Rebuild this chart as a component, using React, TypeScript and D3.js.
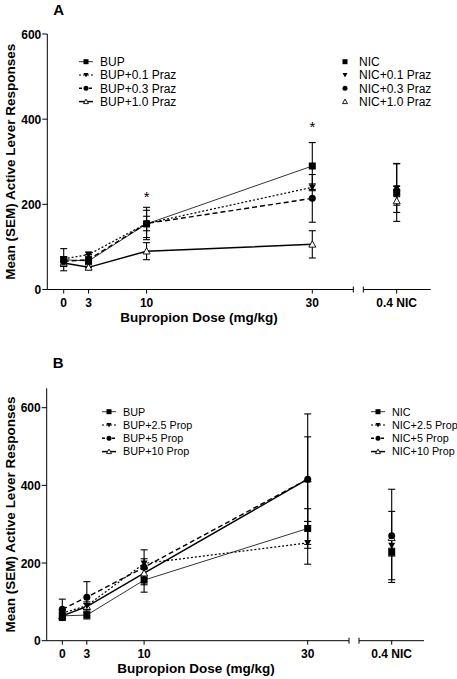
import React from "react";
import * as d3 from "d3";

const doses = [0, 3, 10, 30];
const yTicks = [0, 200, 400, 600];

// Panel A
const seriesA = ["BUP", "BUP+0.1 Praz", "BUP+0.3 Praz", "BUP+1.0 Praz"];
const nicNamesA = ["NIC", "NIC+0.1 Praz", "NIC+0.3 Praz", "NIC+1.0 Praz"];
const bupA = [70, 67, 154, 290];
const bupA_sem = [26, 15, 32, 55];
const bup01A = [72, 82, 155, 240];
const bup01A_sem = [5, 6, 17, 8];
const bup03A = [66, 70, 155, 214];
const bup03A_sem = [8, 8, 38, 56];
const bup10A = [62, 52, 90, 106];
const bup10A_sem = [8, 6, 20, 32];
const nicA = [228, 238, 232, 208];
const nicA_sem = [68, 57, 10, 10];
const starDosesA = [10, 30];
const starValuesA = [227, 390];

// Panel B
const seriesB = ["BUP", "BUP+2.5 Prop", "BUP+5 Prop", "BUP+10 Prop"];
const nicNamesB = ["NIC", "NIC+2.5 Prop", "NIC+5 Prop", "NIC+10 Prop"];
const bupB = [64, 66, 156, 289];
const bupB_sem = [12, 10, 31, 51];
const bup25B = [71, 90, 199, 252];
const bup25B_sem = [8, 10, 12, 55];
const bup5B = [81, 112, 189, 416];
const bup5B_sem = [26, 40, 45, 168];
const bup10B = [64, 88, 174, 416];
const bup10B_sem = [8, 8, 10, 109];
const nicB = [228, 245, 270, 265];
const nicB_sem = [10, 88, 120, 0];

const FONT = "'Liberation Sans', Arial, sans-serif";

const styles = [
  { shape: "square", dash: "none", width: 0.8 },
  { shape: "tridown", dash: "2,2", width: 1.2 },
  { shape: "circle", dash: "5,3", width: 1.4 },
  { shape: "triup", dash: "none", width: 1.5 },
];

function Marker({ shape, x, y, s }: { shape: string; x: number; y: number; s: number }) {
  const h = s / 2;
  if (shape === "square") return <rect x={x - h} y={y - h} width={s} height={s} fill="#000" />;
  if (shape === "circle") return <circle cx={x} cy={y} r={h} fill="#000" />;
  if (shape === "tridown")
    return <path d={`M${x - h},${y - h * 0.8}L${x + h},${y - h * 0.8}L${x},${y + h}Z`} fill="#000" />;
  return (
    <path
      d={`M${x - h},${y + h * 0.8}L${x + h},${y + h * 0.8}L${x},${y - h}Z`}
      fill="#fff"
      stroke="#000"
      strokeWidth={0.9}
    />
  );
}

type PanelCfg = {
  label: string;
  labelY: number;
  axisX: number;
  yTop: number;
  yBottom: number;
  axisTopVal: number;
  x0: number;
  x30: number;
  nicX: number;
  seg1End: number;
  seg2Start: number;
  seg2End: number;
  means: number[][];
  sems: number[][];
  nic: number[];
  nicSem: number[];
  names: string[];
  nicNames: string[];
  legL: number;
  legR: number;
  legY: number;
  legFont: number;
  nicLines: boolean;
  stars?: { d: number; v: number }[];
};

function Panel({ c }: { c: PanelCfg }) {
  const y = d3.scaleLinear().domain([0, 600]).range([c.yBottom, c.yTop]);
  const x = d3.scaleLinear().domain([0, 30]).range([c.x0, c.x30]);
  const line = d3
    .line<number>()
    .x((_, i) => x(doses[i]))
    .y((v) => y(v));
  const cap = 3.5;
  const errBar = (cx: number, m: number, s: number, key: string) => {
    if (!s) return null;
    const t = y(m + s);
    const b = y(m - s);
    return (
      <g key={key} stroke="#000" strokeWidth={1.1}>
        <line x1={cx} x2={cx} y1={t} y2={b} />
        <line x1={cx - cap} x2={cx + cap} y1={t} y2={t} />
        <line x1={cx - cap} x2={cx + cap} y1={b} y2={b} />
      </g>
    );
  };
  const yAxis0 = y(0);
  return (
    <g fontFamily={FONT}>
      <text x={c.axisX + 6} y={c.labelY} fontSize={15} fontWeight="bold">
        {c.label}
      </text>
      {/* y axis */}
      <line x1={c.axisX} x2={c.axisX} y1={y(c.axisTopVal)} y2={yAxis0} stroke="#000" strokeWidth={1} />
      {yTicks.map((t) => (
        <g key={t}>
          <line x1={c.axisX - 5} x2={c.axisX} y1={y(t)} y2={y(t)} stroke="#000" />
          <text x={c.axisX - 6} y={y(t) + 4.5} fontSize={12} fontWeight="bold" textAnchor="end">
            {t}
          </text>
        </g>
      ))}
      {/* x axis segments */}
      <line x1={c.axisX} x2={c.seg1End} y1={yAxis0} y2={yAxis0} stroke="#000" />
      <line x1={c.seg1End} x2={c.seg1End} y1={yAxis0 - 3} y2={yAxis0 + 3} stroke="#000" />
      <line x1={c.seg2Start} x2={c.seg2End} y1={yAxis0} y2={yAxis0} stroke="#000" />
      <line x1={c.seg2Start} x2={c.seg2Start} y1={yAxis0 - 3} y2={yAxis0 + 3} stroke="#000" />
      {doses.map((d) => (
        <g key={d}>
          <line x1={x(d)} x2={x(d)} y1={yAxis0} y2={yAxis0 + 4} stroke="#000" />
          <text x={x(d)} y={yAxis0 + 17} fontSize={12} fontWeight="bold" textAnchor="middle">
            {d}
          </text>
        </g>
      ))}
      <line x1={c.nicX} x2={c.nicX} y1={yAxis0} y2={yAxis0 + 4} stroke="#000" />
      <text x={c.nicX} y={yAxis0 + 17} fontSize={12} fontWeight="bold" textAnchor="middle">
        0.4 NIC
      </text>
      <text x={(c.x0 + c.x30) / 2 + 11} y={yAxis0 + 32} fontSize={13.5} fontWeight="bold" textAnchor="middle">
        Bupropion Dose (mg/kg)
      </text>
      {/* y axis title */}
      <text
        transform={`translate(15,${(y(0) + y(c.axisTopVal)) / 2}) rotate(-90)`}
        fontSize={13.5}
        fontWeight="bold"
        textAnchor="middle"
      >
        Mean (SEM) Active Lever Responses
      </text>
      {/* error bars */}
      {c.means.map((m, si) => m.map((v, i) => errBar(x(doses[i]), v, c.sems[si][i], `e${si}-${i}`)))}
      {c.nic.map((v, si) => errBar(c.nicX, v, c.nicSem[si], `n${si}`))}
      {/* lines */}
      {c.means.map((m, si) => (
        <path
          key={si}
          d={line(m) || ""}
          fill="none"
          stroke="#000"
          strokeWidth={styles[si].width}
          strokeDasharray={styles[si].dash}
        />
      ))}
      {/* markers */}
      {[3, 2, 1, 0].map((si) =>
        c.means[si].map((v, i) => (
          <Marker key={`m${si}-${i}`} shape={styles[si].shape} x={x(doses[i])} y={y(v)} s={7} />
        ))
      )}
      {[3, 2, 1, 0].map((si) => (
        <Marker key={`nm${si}`} shape={styles[si].shape} x={c.nicX} y={y(c.nic[si])} s={7} />
      ))}
      {c.stars &&
        c.stars.map((s, i) => (
          <text key={i} x={x(s.d)} y={y(s.v) + 9} fontSize={15} textAnchor="middle">
            *
          </text>
        ))}
      {/* legends */}
      {c.names.map((n, i) => {
        const ly = c.legY + i * 13.3;
        return (
          <g key={n}>
            <line
              x1={c.legL}
              x2={c.legL + 14}
              y1={ly}
              y2={ly}
              stroke="#000"
              strokeWidth={styles[i].width}
              strokeDasharray={styles[i].dash === "5,3" ? "3,2" : styles[i].dash}
            />
            <Marker shape={styles[i].shape} x={c.legL + 7} y={ly} s={5} />
            <text x={c.legL + 21} y={ly + c.legFont * 0.36} fontSize={c.legFont}>
              {n}
            </text>
          </g>
        );
      })}
      {c.nicNames.map((n, i) => {
        const ly = c.legY + i * 13.3;
        return (
          <g key={n}>
            {c.nicLines && (
              <line
                x1={c.legR}
                x2={c.legR + 14}
                y1={ly}
                y2={ly}
                stroke="#000"
                strokeWidth={styles[i].width}
                strokeDasharray={styles[i].dash === "5,3" ? "3,2" : styles[i].dash}
              />
            )}
            <Marker shape={styles[i].shape} x={c.legR + 7} y={ly} s={5} />
            <text x={c.legR + 21} y={ly + c.legFont * 0.36} fontSize={c.legFont}>
              {n}
            </text>
          </g>
        );
      })}
    </g>
  );
}

export default function App() {
  const A: PanelCfg = {
    label: "A",
    labelY: 15,
    axisX: 47.3,
    yTop: 34,
    yBottom: 289.5,
    axisTopVal: 600,
    x0: 63.7,
    x30: 312.3,
    nicX: 396.7,
    seg1End: 353.3,
    seg2Start: 363.3,
    seg2End: 430.7,
    means: [bupA, bup01A, bup03A, bup10A],
    sems: [bupA_sem, bup01A_sem, bup03A_sem, bup10A_sem],
    nic: nicA,
    nicSem: nicA_sem,
    names: seriesA,
    nicNames: nicNamesA,
    legL: 79,
    legR: 338,
    legY: 61.7,
    legFont: 12,
    nicLines: false,
    stars: starDosesA.map((d, i) => ({ d, v: starValuesA[i] })),
  };
  const B: PanelCfg = {
    label: "B",
    labelY: 368,
    axisX: 46.7,
    yTop: 407.7,
    yBottom: 640.7,
    axisTopVal: 650,
    x0: 62.3,
    x30: 307.7,
    nicX: 391.7,
    seg1End: 349,
    seg2Start: 359,
    seg2End: 424,
    means: [bupB, bup25B, bup5B, bup10B],
    sems: [bupB_sem, bup25B_sem, bup5B_sem, bup10B_sem],
    nic: nicB,
    nicSem: nicB_sem,
    names: seriesB,
    nicNames: nicNamesB,
    legL: 102,
    legR: 371,
    legY: 411.7,
    legFont: 10.8,
    nicLines: true,
  };
  return (
    <svg width={457} height={679} style={{ position: "absolute", left: 0, top: 0, background: "#fff" }}>
      <rect width={457} height={679} fill="#fff" />
      <Panel c={A} />
      <Panel c={B} />
    </svg>
  );
}
